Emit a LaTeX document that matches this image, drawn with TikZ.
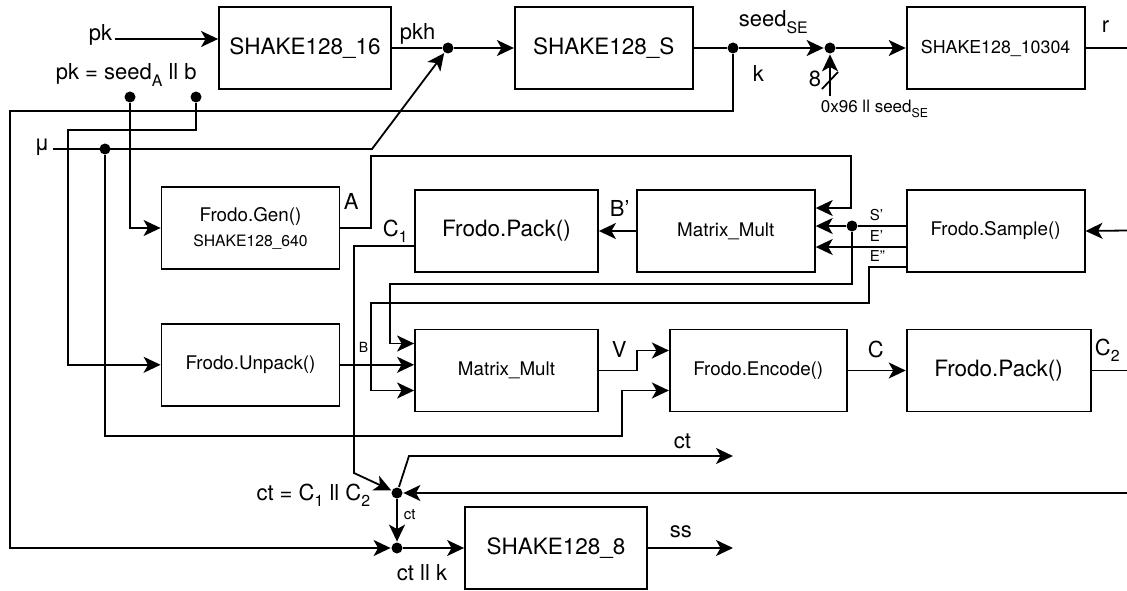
\documentclass[tikz,border=0pt]{standalone}
\usepackage{fontspec}
\setmainfont{TeX Gyre Heros}
\usepackage{tikz}
\usetikzlibrary{arrows.meta, positioning}
\newcommand{\lowidx}[1]{\raisebox{-0.28em}{\scalebox{0.72}{#1}}}

\begin{document}
\begin{tikzpicture}[
    x=1pt, y=-1pt,
    line width=1.8pt,
    box/.style={
        rectangle,
        draw,
        minimum width=178pt,
        minimum height=82pt,
        align=center,
        font=\fontsize{18.8}{22}\selectfont
    },
    bigbox/.style={
        box,
        font=\fontsize{22.5}{26}\selectfont
    },
    dot/.style={circle, fill, inner sep=0pt, minimum size=11pt},
    lbl/.style={anchor=base west, inner sep=0pt, font=\fontsize{22}{26}\selectfont},
    smalllbl/.style={lbl, font=\fontsize{15}{18}\selectfont},
    arrow/.style={-{Stealth[length=17pt, width=16pt, inset=4.5pt]}}
]
\useasboundingbox (0,0) rectangle (1127,591);

% hash chain on top
\node[bigbox, minimum width=172pt] (sh16) at (305,48) {SHAKE128\_16};
\node[bigbox, right=122pt of sh16] (shS) {SHAKE128\_S};
\node[box, right=212pt of shS, font=\fontsize{17.8}{21}\selectfont] (sh10304) {SHAKE128\_10304};

% matrix part
\node[box] (gen) at (250.5,228) {Frodo.Gen()\\[3pt]{\fontsize{15.7}{18}\selectfont SHAKE128\_640}};
\node[box, below=53pt of gen] (unpack) {Frodo.Unpack()};
\node[bigbox, minimum width=183pt] (packA) at (506.5,231) {Frodo.Pack()};
\node[box, right=37pt of packA] (mmA) {Matrix\_Mult};
\node[box, right=90pt of mmA] (sample) {Frodo.Sample()};
\node[box, minimum width=183pt] (mmB) at (506.5,370.5) {Matrix\_Mult};
\node[box, minimum width=177pt, right=70pt of mmB] (encode) {Frodo.Encode()};
\node[bigbox, minimum width=184pt, right=58pt of encode] (packB) {Frodo.Pack()};
\node[bigbox, minimum width=182pt] (sh8) at (556,548) {SHAKE128\_8};

% junctions
\node[dot] (pkhdot) at (448,48) {};
\node[dot] (kdot) at (733,48) {};
\node[dot] (xordot) at (830,48) {};
\node[dot] (seeddot) at (130,97) {};
\node[dot] (bdot) at (196,97) {};
\node[dot] (mudot) at (105,149) {};
\node[dot] (sdot) at (852,226) {};
\node[dot] (ctdot) at (397,493) {};
\node[dot] (ctkdot) at (397,548) {};

% free ends
\coordinate (pkin) at (115,39);
\coordinate (muin) at (53,149);
\coordinate (xin) at (830,96);
\coordinate (rout) at (1127,48);
\coordinate (sin) at (1127,230.5);
\coordinate (c2out) at (1127,370.5);
\coordinate (c2in) at (1127,493);
\coordinate (ctout) at (733,456);
\coordinate (ssout) at (733,548);

% top connectors
\draw[arrow] (pkin) -- (pkin -| sh16.west);
\draw (sh16.east) -- (pkhdot);
\draw[arrow] (pkhdot) -- (shS.west);
\draw (shS.east) -- (kdot);
\draw[arrow] (kdot) -- (xordot);
\draw[arrow] (xin) -- (xordot);
\draw (822,89) -- (838,72);
\draw[arrow] (xordot) -- (sh10304.west);
\draw (sh10304.east) -- (rout);
\draw[arrow] (muin) -- (372,149) -- (pkhdot);
\draw[arrow] (kdot) |- (10,111) |- (ctkdot);

% inputs of Gen and Unpack
\draw[arrow] (seeddot) |- (gen.west);
\draw[arrow] (bdot) |- (68,130) |- (unpack.west);
\draw[arrow] (mudot) |- (622,436) |- ([yshift=-20pt]encode.west);

% first Matrix_Mult
\draw[arrow] (gen.east) -- (371,228) |- (851,156) |- ([yshift=23pt]mmA.east);
\draw (sample.west |- sdot) -- (sdot);
\draw[arrow] (sdot) -- (sdot -| mmA.east);
\draw[arrow] ([yshift=-16pt]sample.west) -- ([yshift=-16pt]sample.west -| mmA.east);
\draw[arrow] (mmA.west) -- (packA.east);
\draw[arrow] (sin) -- (sample.east);

% second Matrix_Mult
\draw[arrow] (sdot) |- (390,284) |- ([yshift=27pt]mmB.west);
\draw[arrow] (unpack.east) -- (unpack.east -| mmB.west);
\draw[arrow] ([yshift=-36pt]sample.west) -- ++(-37pt,0) |- (371,303) |- ([yshift=-20pt]mmB.west);
\draw[arrow] (mmB.east) -- (637,370.5) |- ([yshift=20pt]encode.west);
\draw[arrow] (encode.east) -- (packB.west);
\draw (packB.east) -- (c2out);

% ciphertext and shared secret
\draw[arrow] ([yshift=-15pt]packA.west) -| (354,473) -- (ctdot);
\draw[arrow] (c2in) -- (ctdot);
\draw[arrow] (ctdot) -- (409,456) -- (ctout);
\draw[arrow] (ctdot) -- (ctkdot);
\draw[arrow] (ctkdot) -- (sh8.west);
\draw[arrow] (sh8.east) -- (ssout);

% labels
\node[lbl, anchor=base east] (pklbl) at (113,41) {pk};
\node[lbl] (pkeq) at (55,80) {pk = seed\lowidx{A} ll b};
\node[lbl, anchor=center] (mulbl) at (42,147) {μ};
\node[lbl] (pkhlbl) at (399,40) {pkh};
\node[lbl] (seedlbl) at (738,27) {seed\lowidx{SE}};
\node[lbl] (klbl) at (752,82) {k};
\node[lbl] (rlbl) at (1101,33) {r};
\node[lbl] (eightlbl) at (808,87) {8};
\node[lbl, font=\fontsize{17}{20}\selectfont] (prelbl) at (820,113) {0x96 ll seed\lowidx{SE}};
\node[lbl] (albl) at (343,209) {A};
\node[lbl] (c1lbl) at (382,236) {C\lowidx{1}};
\node[lbl] (bplbl) at (609,216) {B'};
\node[smalllbl] (splbl) at (869,220) {S'};
\node[smalllbl] (eplbl) at (869,241) {E'};
\node[smalllbl] (epplbl) at (869,261) {E''};
\node[smalllbl, font=\fontsize{14}{17}\selectfont] (blbl) at (358,352) {B};
\node[lbl] (vlbl) at (611,357) {V};
\node[lbl] (clbl) at (867,357) {C};
\node[lbl] (c2lbl) at (1094,355) {C\lowidx{2}};
\node[lbl] (ctlbl) at (673,448) {ct};
\node[lbl, anchor=base east] (cteq) at (371,500) {ct = C\lowidx{1} ll C\lowidx{2}};
\node[smalllbl] (ctsmall) at (403,519) {ct};
\node[lbl] (ctklbl) at (396,580) {ct ll k};
\node[lbl] (sslbl) at (669,537) {ss};

\end{tikzpicture}
\end{document}
